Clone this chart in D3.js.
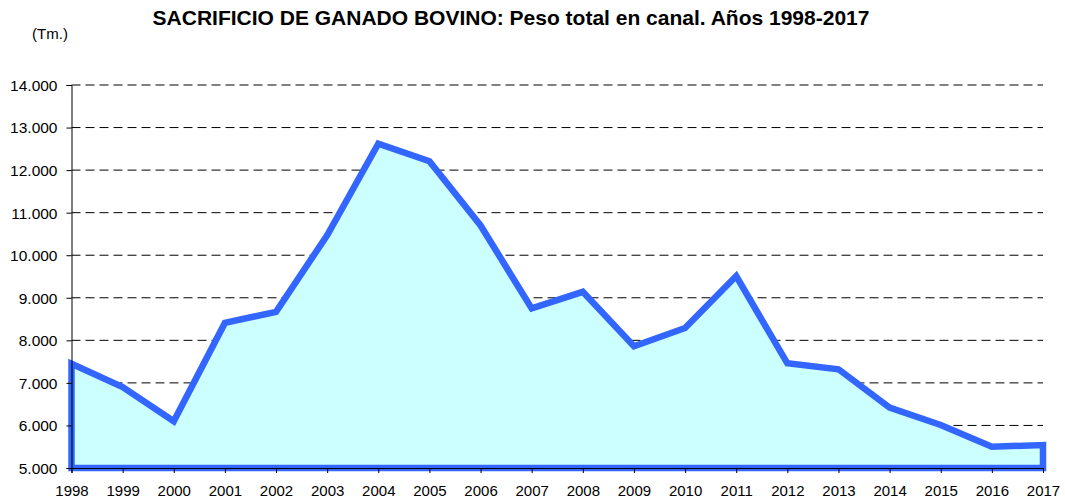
<!DOCTYPE html>
<html>
<head>
<meta charset="utf-8">
<script src="https://cdn.jsdelivr.net/npm/d3@7"></script>
<style>
  body { margin: 0; background: #fff; }
  text { font-family: Arial, "Liberation Sans", sans-serif; fill: #000; }
</style>
</head>
<body>
<div id="chart"></div>
<script>
const years = [1998, 1999, 2000, 2001, 2002, 2003, 2004, 2005, 2006, 2007,
               2008, 2009, 2010, 2011, 2012, 2013, 2014, 2015, 2016, 2017];
const peso = [7450, 6900, 6100, 8410, 8670, 10470, 12620, 12210, 10700, 8750,
              9140, 7860, 8290, 9510, 7460, 7320, 6420, 6010, 5500, 5540];
const yTicks = [5000, 6000, 7000, 8000, 9000, 10000, 11000, 12000, 13000, 14000];

const width = 1065, height = 503;
const margin = { top: 85, right: 22, bottom: 35, left: 71.5 };

const locale = d3.formatLocale({ decimal: ",", thousands: ".", grouping: [3], currency: ["", "€"] });
const fmt = locale.format(",.3~f");

const svg = d3.select("#chart")
    .append("svg")
    .attr("width", width)
    .attr("height", height);

const x = d3.scaleLinear()
    .domain([1998, 2017])
    .range([margin.left, width - margin.right]);

const y = d3.scaleLinear()
    .domain([5000, 14000])
    .range([height - margin.bottom, margin.top]);

// gridlines
svg.append("g")
    .selectAll("line")
    .data(yTicks.slice(1))
    .join("line")
    .attr("x1", margin.left)
    .attr("x2", width - margin.right)
    .attr("y1", d => y(d))
    .attr("y2", d => y(d))
    .attr("stroke", "#000")
    .attr("stroke-width", 1)
    .attr("stroke-dasharray", "9,5");

// area
const area = d3.area()
    .x((d, i) => x(years[i]))
    .y0(y(5000))
    .y1(d => y(d));

svg.append("path")
    .datum(peso)
    .attr("d", d => area(d) + "Z")
    .attr("fill", "#ccffff")
    .attr("stroke", "#3366ff")
    .attr("stroke-width", 6.5)
    .attr("stroke-linejoin", "miter");

// axes
const yAxis = svg.append("g")
    .attr("transform", `translate(${margin.left},0)`)
    .call(d3.axisLeft(y).tickValues(yTicks).tickFormat(fmt).tickSize(5).tickPadding(9));
yAxis.select(".domain").attr("stroke", "#000");
yAxis.selectAll("text").style("font-size", "15.5px").attr("dy", "0.35em");

const xAxis = svg.append("g")
    .attr("transform", `translate(0,${y(5000)})`)
    .call(d3.axisBottom(x).tickValues(years).tickFormat(d3.format("d")).tickSize(5).tickPadding(12));
xAxis.select(".domain").attr("stroke", "#000");
xAxis.selectAll("text").style("font-size", "15px");

// title
svg.append("text")
    .attr("x", 511)
    .attr("y", 25)
    .attr("text-anchor", "middle")
    .style("font-size", "21px")
    .style("font-weight", "bold")
    .text("SACRIFICIO DE GANADO BOVINO: Peso total en canal. Años 1998-2017");

svg.append("text")
    .attr("x", 50)
    .attr("y", 39)
    .attr("text-anchor", "middle")
    .style("font-size", "15px")
    .text("(Tm.)");
</script>
</body>
</html>
